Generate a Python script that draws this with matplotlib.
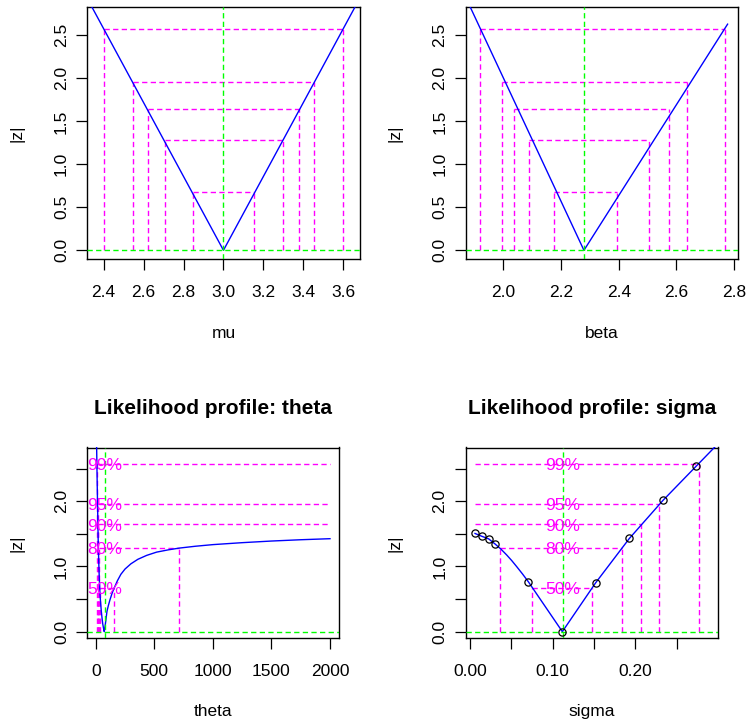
import matplotlib
matplotlib.use('Agg')
import matplotlib.pyplot as plt

plt.rcParams['font.family'] = ['Liberation Sans', 'DejaVu Sans']

# ---------------- data ----------------
conf_labels = ['99%', '95%', '90%', '80%', '50%']
conf_z = [2.576, 1.960, 1.645, 1.282, 0.674]

# mu profile
mu_curve = [2.33, 3.0, 3.67]
mu_curve_z = [2.877, 0.0, 2.877]
mu_mle = 3.0
mu_lower = [2.400, 2.547, 2.620, 2.705, 2.846]
mu_upper = [3.600, 3.452, 3.378, 3.296, 3.154]
mu_xticks = [2.4, 2.6, 2.8, 3.0, 3.2, 3.4, 3.6]
mu_xticklabels = ['2.4', '2.6', '2.8', '3.0', '3.2', '3.4', '3.6']

# beta profile
beta_curve = [1.88, 2.2795, 2.777]
beta_curve_z = [2.87, 0.0, 2.63]
beta_mle = 2.2795
beta_lower = [1.9205, 1.9966, 2.038, 2.088, 2.1756]
beta_upper = [2.7666, 2.636, 2.5727, 2.5034, 2.3926]
beta_xticks = [2.0, 2.2, 2.4, 2.6, 2.8]
beta_xticklabels = ['2.0', '2.2', '2.4', '2.6', '2.8']

# theta profile
theta_curve = [3, 8, 13, 17, 21, 26, 31, 37, 43, 48, 54, 60, 67, 73,
               79, 85, 96, 108, 122, 140, 159, 185, 215, 250, 300, 360,
               435, 520, 620, 714, 850, 1000, 1250, 1500, 1750, 2000]
theta_curve_z = [3.2, 2.83, 2.25, 1.84, 1.42, 1.07, 0.80, 0.56, 0.42, 0.31,
                 0.21, 0.12, 0.05, 0.0, 0.07, 0.15, 0.31, 0.40, 0.49, 0.59,
                 0.674, 0.78, 0.88, 0.96, 1.04, 1.11, 1.17, 1.22, 1.255,
                 1.282, 1.31, 1.335, 1.365, 1.39, 1.41, 1.426]
theta_mle = 77
theta_lower = [10, 16, 20, 26, 36]
theta_upper = [None, None, None, 714, 159]
theta_xticks = [0, 500, 1000, 1500, 2000]
theta_xticklabels = ['0', '500', '1000', '1500', '2000']

# sigma profile
sigma_pts = [0.0061, 0.0141, 0.0226, 0.0306, 0.0706, 0.1117, 0.1520,
             0.1927, 0.2335, 0.2738]
sigma_pts_z = [1.506, 1.464, 1.423, 1.342, 0.765, 0.0, 0.750, 1.429, 2.015, 2.541]
sigma_curve = [0.0061, 0.0141, 0.0226, 0.0306, 0.0375, 0.0444, 0.0505, 0.0565,
               0.0635, 0.0706, 0.1117, 0.1520, 0.1927, 0.2335, 0.2738, 0.3000]
sigma_curve_z = [1.506, 1.464, 1.423, 1.342, 1.265, 1.176, 1.09, 0.997,
                 0.885, 0.765, 0.0, 0.750, 1.429, 2.015, 2.541, 2.883]
sigma_mle = 0.1121
sigma_lower = [None, None, None, 0.0363, 0.0754]
sigma_upper = [0.2766, 0.2290, 0.2073, 0.1839, 0.1480]
sigma_xticks = [0.0, 0.05, 0.10, 0.15, 0.20, 0.25]
sigma_xticklabels = ['0.00', '', '0.10', '', '0.20', '']

top_yticks = [0.0, 0.5, 1.0, 1.5, 2.0, 2.5]
top_yticklabels = ['0.0', '0.5', '1.0', '1.5', '2.0', '2.5']
bot_yticklabels = ['0.0', '', '1.0', '', '2.0', '']

# ---------------- style ----------------
W, H = 750, 724
FS = 12.5
MAG = '#FF00FF'
GRN = '#00FF00'
BLU = '#0000FF'
DASH = (0, (3.8, 2.4))

fig = plt.figure(figsize=(W / 100, H / 100), dpi=100)


def px_axes(x0, y0, x1, y1):
    return fig.add_axes([x0 / W, 1 - y1 / H, (x1 - x0) / W, (y1 - y0) / H])


def panel(ax, xc, zc, mle, lower, upper, xlim, ylim, xticks, xticklabels,
          yticklabels, labels=False, pts=None, pts_z=None):
    ax.plot(xc, zc, color=BLU, lw=1.0, zorder=3)
    xmin, xmax = min(xc), max(xc)
    if pts is not None:
        xmin, xmax = min(pts), max(xc)
        ax.plot(pts, pts_z, linestyle='none', marker='o', ms=5.2,
                mfc='none', mec='black', mew=0.9, zorder=5)
    for i, z in enumerate(conf_z):
        lo = lower[i] if lower[i] is not None else xmin
        hi = upper[i] if upper[i] is not None else xmax
        ax.plot([lo, hi], [z, z], color=MAG, lw=1.0, linestyle=DASH, zorder=2)
        if lower[i] is not None:
            ax.plot([lo, lo], [0, z], color=MAG, lw=1.0, linestyle=DASH, zorder=2)
        if upper[i] is not None:
            ax.plot([hi, hi], [0, z], color=MAG, lw=1.0, linestyle=DASH, zorder=2)
    ax.axvline(mle, color=GRN, lw=1.0, linestyle=DASH, zorder=4)
    ax.axhline(0, color=GRN, lw=1.0, linestyle=DASH, zorder=4)
    if labels:
        for lab, z in zip(conf_labels, conf_z):
            ax.annotate(lab, (mle, z), xytext=(0, -4.4), textcoords='offset points',
                        ha='center', va='baseline', color=MAG, fontsize=FS, zorder=6)
    ax.set_xlim(*xlim)
    ax.set_ylim(*ylim)
    ax.set_xticks(xticks)
    ax.set_xticklabels(xticklabels)
    ax.set_yticks(top_yticks)
    ax.set_yticklabels(yticklabels)
    ax.tick_params(axis='both', direction='out', length=7.7, width=0.9,
                   labelsize=FS, colors='black')
    ax.tick_params(axis='x', pad=10.5)
    ax.tick_params(axis='y', pad=5.5)
    for lbl in ax.get_yticklabels():
        lbl.set_rotation(90)
        lbl.set_va('center')
    for s in ax.spines.values():
        s.set_linewidth(1.0)


top_ylim = (-0.1047, 2.833)
bot_ylim = (-0.102, 2.825)

ax1 = px_axes(87.3, 6.7, 360.0, 259.3)
panel(ax1, mu_curve, mu_curve_z, mu_mle, mu_lower, mu_upper,
      (2.318, 3.684), top_ylim, mu_xticks, mu_xticklabels, top_yticklabels)

ax2 = px_axes(465.7, 6.7, 737.7, 259.3)
panel(ax2, beta_curve, beta_curve_z, beta_mle, beta_lower, beta_upper,
      (1.870, 2.812), top_ylim, beta_xticks, beta_xticklabels, top_yticklabels)

ax3 = px_axes(87.3, 447.5, 339.3, 638.3)
panel(ax3, theta_curve, theta_curve_z, theta_mle, theta_lower, theta_upper,
      (-71.7, 2079.4), bot_ylim, theta_xticks, theta_xticklabels, bot_yticklabels,
      labels=True)

ax4 = px_axes(465.7, 447.5, 717.7, 638.3)
panel(ax4, sigma_curve, sigma_curve_z, sigma_mle, sigma_lower, sigma_upper,
      (-0.0052, 0.2996), bot_ylim, sigma_xticks, sigma_xticklabels, bot_yticklabels,
      labels=True, pts=sigma_pts, pts_z=sigma_pts_z)


def ftext(x, y, s, **kw):
    fig.text(x / W, 1 - y / H, s, **kw)


# x labels
ftext(223.7, 338.3, 'mu', ha='center', va='baseline', fontsize=FS)
ftext(601.7, 338.3, 'beta', ha='center', va='baseline', fontsize=FS)
ftext(213.3, 716, 'theta', ha='center', va='baseline', fontsize=FS)
ftext(591.7, 716, 'sigma', ha='center', va='baseline', fontsize=FS)

# y labels
for (x, y) in [(22, 133), (400, 133), (22, 543), (400, 543)]:
    fig.text(x / W, 1 - y / H, '|z|', rotation=90, rotation_mode='anchor',
             ha='center', va='baseline', fontsize=FS)

# titles
ftext(213.3, 414, 'Likelihood profile: theta', ha='center', va='baseline',
      fontsize=FS * 1.2, fontweight='bold')
ftext(591.7, 414, 'Likelihood profile: sigma', ha='center', va='baseline',
      fontsize=FS * 1.2, fontweight='bold')

fig.savefig('out.png', dpi=100)
